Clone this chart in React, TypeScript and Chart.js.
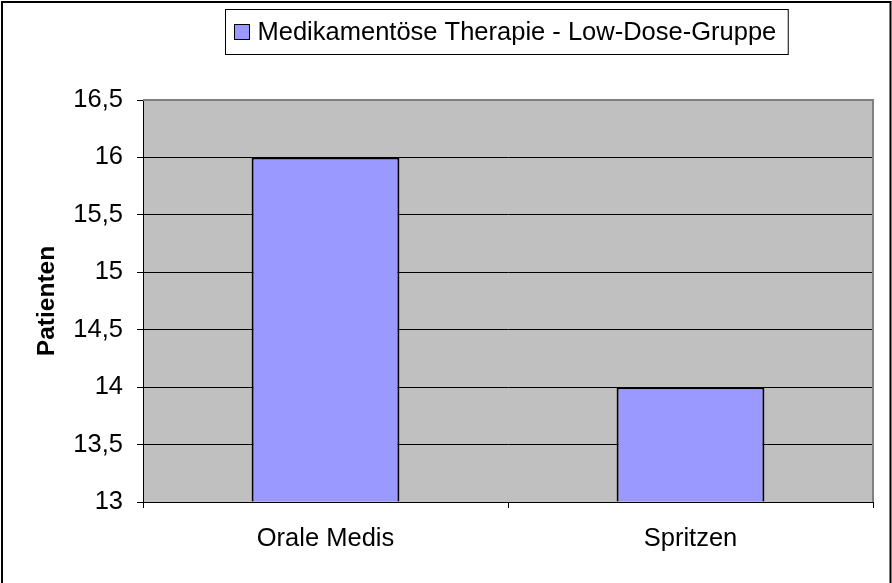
import React, { useEffect, useRef } from "react";
import { Chart, registerables } from "chart.js";

Chart.register(...registerables);

const categories = ["Orale Medis", "Spritzen"];
const seriesLabel = "Medikamentöse Therapie - Low-Dose-Gruppe";
const seriesValues = [16, 14];
const yMin = 13;
const yMax = 16.5;
const yStep = 0.5;
const yTitle = "Patienten";

const FONT = "'Liberation Sans', Arial, sans-serif";
const FS = 25.5;

const framePlugin = {
  id: "frame",
  beforeDraw(chart: any) {
    const { ctx, chartArea, width } = chart;
    ctx.save();
    ctx.fillStyle = "#FFFFFF";
    ctx.fillRect(0, 0, width, chart.height);
    ctx.fillStyle = "#C0C0C0";
    ctx.fillRect(chartArea.left, chartArea.top, chartArea.right - chartArea.left, chartArea.bottom - chartArea.top);
    ctx.restore();
  },
  beforeDatasetsDraw(chart: any) {
    const { ctx, chartArea } = chart;
    ctx.save();
    ctx.strokeStyle = "#808080";
    ctx.lineWidth = 2;
    ctx.beginPath();
    ctx.moveTo(chartArea.left, chartArea.top);
    ctx.lineTo(chartArea.right, chartArea.top);
    ctx.lineTo(chartArea.right, chartArea.bottom);
    ctx.stroke();
    ctx.restore();
  },
  afterDraw(chart: any) {
    const { ctx, chartArea, width } = chart;
    ctx.save();
    ctx.strokeStyle = "#000";
    ctx.lineWidth = 2;
    ctx.strokeRect(2, 2, width - 3.5, chart.height + 10);
    const ds = chart.data.datasets[0];
    ctx.font = `${FS}px ${FONT}`;
    const tw = ctx.measureText(ds.label).width;
    const padL = 9, sq = 15, gap = 8, padR = 12;
    const bw = padL + sq + gap + tw + padR;
    const cx = (chartArea.left + chartArea.right) / 2;
    const bx = Math.round(cx - bw / 2) - 1.5;
    const by = 9.5;
    const bh = 45;
    ctx.fillStyle = "#fff";
    ctx.fillRect(bx, by, bw, bh);
    ctx.lineWidth = 1;
    ctx.strokeStyle = "#000";
    ctx.strokeRect(bx, by, bw, bh);
    const sy = by + bh / 2 - sq / 2;
    ctx.fillStyle = ds.backgroundColor;
    ctx.fillRect(bx + padL, sy, sq, sq);
    ctx.strokeRect(bx + padL, sy, sq, sq);
    ctx.fillStyle = "#000";
    ctx.textBaseline = "middle";
    ctx.textAlign = "left";
    ctx.fillText(ds.label, bx + padL + sq + gap, by + bh / 2 + 1);
    ctx.restore();
  },
};

export default function App() {
  const ref = useRef<HTMLCanvasElement>(null);
  useEffect(() => {
    if (!ref.current) return;
    const chart = new Chart(ref.current, {
      type: "bar",
      data: {
        labels: categories,
        datasets: [
          {
            label: seriesLabel,
            data: seriesValues,
            backgroundColor: "#9999FF",
            borderColor: "#000000",
            borderWidth: 2,
            base: yMin,
            barPercentage: 0.405,
            categoryPercentage: 1,
          } as any,
        ],
      },
      options: {
        animation: false,
        responsive: false,
        layout: { padding: { top: 100, right: 19, bottom: 0, left: 0 } },
        plugins: { legend: { display: false }, tooltip: { enabled: false } },
        scales: {
          x: {
            grid: {
              offset: true,
              drawOnChartArea: false,
              drawTicks: true,
              tickLength: 6,
              tickColor: "#000",
              color: "#000",
            },
            border: { display: true, color: "#000", width: 1 },
            ticks: { color: "#000", font: { family: FONT, size: FS }, padding: 16, maxRotation: 0 },
            afterFit(scale: any) {
              scale.height = 81;
            },
          },
          y: {
            min: yMin,
            max: yMax,
            ticks: {
              stepSize: yStep,
              color: "#000",
              font: { family: FONT, size: FS },
              padding: 14,
              callback: (v: any) => String(v).replace(".", ","),
            },
            grid: {
              color: (c: any) => (c.tick && c.tick.value === yMax ? "rgba(0,0,0,0)" : "#000"),
              lineWidth: 1,
              tickLength: 6,
              tickColor: "#000",
            },
            border: { display: true, color: "#000", width: 1 },
            title: {
              display: true,
              text: yTitle,
              color: "#000",
              font: { family: FONT, size: 24.5, weight: "bold" },
              padding: { top: 33, bottom: 0 },
            },
            afterFit(scale: any) {
              scale.width = 143;
            },
          },
        },
      },
      plugins: [framePlugin],
    });
    return () => chart.destroy();
  }, []);
  return (
    <div style={{ position: "fixed", left: 0, top: 0, width: 892, height: 583 }}>
      <canvas ref={ref} width={892} height={583} style={{ display: "block" }} />
    </div>
  );
}
